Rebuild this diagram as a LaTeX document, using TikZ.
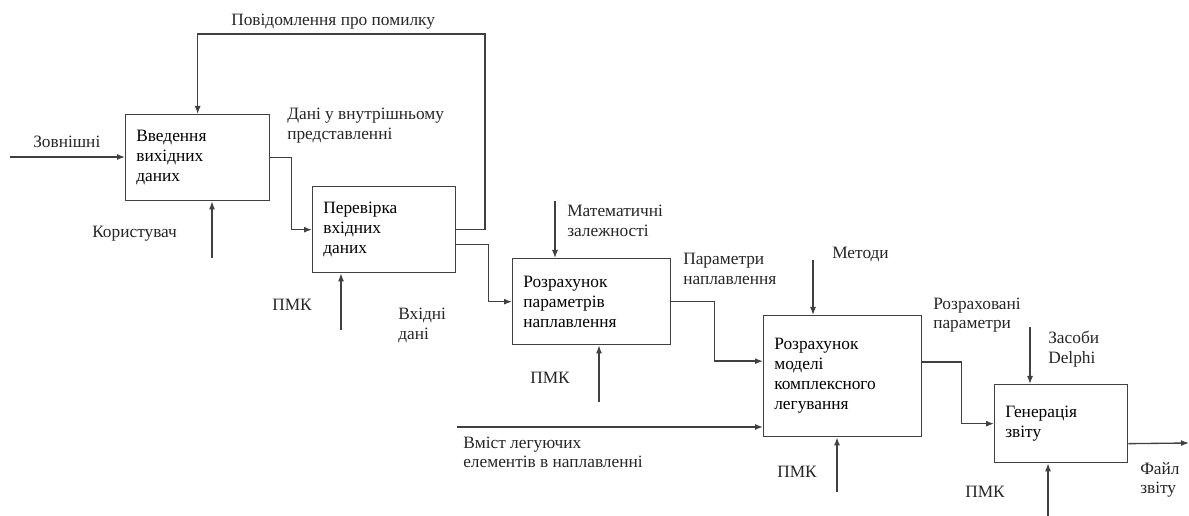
\documentclass[tikz,border=0pt]{standalone}
\usepackage{fontspec}
\setmainfont{Liberation Serif}
\usetikzlibrary{calc,arrows.meta}

\begin{document}
\begin{tikzpicture}[x=0.75pt, y=-0.75pt,
    box/.style={draw=black!75, line width=1pt, anchor=north west, align=left, inner xsep=8pt, font=\fontsize{13}{15}\selectfont},
    lbl/.style={anchor=west, align=left, inner sep=0pt, text=black!85, font=\fontsize{13}{14.5}\selectfont},
    arr/.style={draw=black!75, line width=1pt, -{Latex[length=6pt,width=4.5pt]}}]

    \useasboundingbox (0,0) rectangle (1189,516);

    % blocks
    \node[box, text width=92pt, minimum height=64.5pt] (vved) at (125,114) {Введення\\вихідних\\даних};
    \node[box, text width=91.25pt, minimum height=64.5pt] (perev) at (312,186) {Перевірка\\вхідних\\даних};
    \node[box, text width=102.5pt, minimum height=64.5pt] (rozr1) at (512,258) {Розрахунок\\параметрів\\наплавлення};
    \node[box, text width=102.5pt, minimum height=90.75pt] (rozr2) at (763,315) {Розрахунок\\моделі\\комплексного\\легування};
    \node[box, text width=83.75pt, minimum height=58.5pt] (gener) at (994,384) {Генерація\\звіту};

    % free ends
    \coordinate (zovn) at (10,157);
    \coordinate (fb) at (485,34);
    \coordinate (korist) at (212,258);
    \coordinate (pmk2) at (341,330);
    \coordinate (matem) at (555,201);
    \coordinate (pmk3) at (599,402);
    \coordinate (vmist) at (457,427);
    \coordinate (metod) at (813,260);
    \coordinate (pmk4) at (837,492);
    \coordinate (delphi) at (1030,327);
    \coordinate (pmk5) at (1048,516);
    \coordinate (fajl) at (1189,443);

    % inputs and outputs
    \draw[arr] (zovn) -- (zovn -| vved.west);
    \draw[arr] (perev.east) -| (fb) -| (vved.north);
    \draw[arr] (vved.east) -- ++(21,0) |- (perev.west);
    \draw[arr] ($(perev.east)+(0,15)$) -- ++(32,0) |- (rozr1.west);
    \draw[arr] (rozr1.east) -- ++(43,0) |- ($(rozr2.west)+(0,-15)$);
    \draw[arr] (vmist) -- (vmist -| rozr2.west);
    \draw[arr] ($(rozr2.east)+(0,-14)$) -- ++(39,0) |- (gener.west);
    \draw[arr] ($(gener.east)+(0,20)$) -- (fajl);

    % controls and mechanisms
    \draw[arr] (korist) -- (korist |- vved.south);
    \draw[arr] (pmk2) -- (pmk2 |- perev.south);
    \draw[arr] (matem) -- (matem |- rozr1.north);
    \draw[arr] (pmk3) -- (pmk3 |- rozr1.south);
    \draw[arr] (metod) -- (metod |- rozr2.north);
    \draw[arr] (pmk4) -- (pmk4 |- rozr2.south);
    \draw[arr] (delphi) -- (delphi |- gener.north);
    \draw[arr] (pmk5) -- (pmk5 |- gener.south);

    % labels
    \node[lbl] (lpovid) at (231,22) {Повідомлення про помилку};
    \node[lbl] (lzovn) at (33,142) {Зовнішні};
    \node[lbl] (ldani) at (287,125.5) {Дані у внутрішньому\\представленні};
    \node[lbl] (lkorist) at (92,234) {Користувач};
    \node[lbl] (lpmk2) at (272,305) {ПМК};
    \node[lbl] (lvkhid) at (398,325.5) {Вхідні\\дані};
    \node[lbl] (lmatem) at (567,221) {Математичні\\залежності};
    \node[lbl] (lpmk3) at (530,378) {ПМК};
    \node[lbl] (lparam) at (683,269) {Параметри\\наплавлення};
    \node[lbl] (lmetod) at (832,255) {Методи};
    \node[lbl] (lvmist) at (463,452.5) {Вміст легуючих\\елементів в наплавленні};
    \node[lbl] (lpmk4) at (777,472) {ПМК};
    \node[lbl] (lrozr) at (933,315) {Розраховані\\параметри};
    \node[lbl] (ldelphi) at (1048,349) {Засоби\\Delphi};
    \node[lbl] (lpmk5) at (965,492) {ПМК};
    \node[lbl] (lfajl) at (1140,480) {Файл\\звіту};

\end{tikzpicture}
\end{document}
